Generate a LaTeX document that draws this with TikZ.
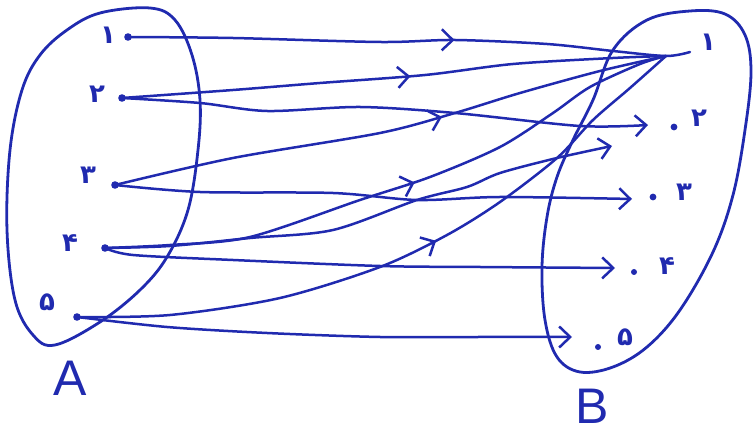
\documentclass[tikz,border=0pt]{standalone}
\usepackage{fontspec}
\newfontfamily\arabicfont[Script=Arabic]{DejaVu Sans}
\newfontfamily\latinfont{Liberation Sans}
\usetikzlibrary{arrows.meta,decorations.markings}
\definecolor{ink}{RGB}{32,42,175}
\tikzset{
  blob/.style={draw=ink, line width=2.8pt},
  conn/.style={draw=ink, line width=2.5pt},
  endarr/.style={-{Straight Barb[length=11pt,width=21pt]}},
  midarr/.style={postaction={decorate}, decoration={markings, mark=at position #1 with {\arrow{Straight Barb[length=11pt,width=21pt]}}}},
  dig/.style={text=ink, font=\arabicfont\bfseries\fontsize{26}{26}\selectfont, inner sep=0pt},
  setname/.style={text=ink, font=\latinfont\fontsize{50}{50}\selectfont, inner sep=0pt},
  pt/.style={fill=ink}
}
\begin{document}
\begin{tikzpicture}[x=1pt, y=-1pt, line cap=round, line join=round]
\useasboundingbox (0,0) rectangle (753,435);
% sets
\draw[blob] plot[smooth cycle, tension=0.6] coordinates {(40,55) (67,30) (100,13) (150,8) (175,20) (192,55) (200,100) (198,150) (188,210) (167,257) (140,290) (100,322) (55,345) (33,335) (15,300) (7,230) (10,150) (22,90)};
\draw[blob] plot[smooth cycle, tension=0.6] coordinates {(613,50) (647,20) (690,11) (725,14) (745,35) (751,72) (745,130) (733,195) (713,252) (680,310) (647,347) (613,367) (580,372) (557,357) (545,320) (542,267) (547,217) (557,177) (573,140) (593,100)};
\node[setname] (A) at (70,378) {A};
\node[setname] (B) at (592,406) {B};
% points of A
\coordinate (a1) at (128,37);
\coordinate (a2) at (122,98);
\coordinate (a3) at (115,185);
\coordinate (a4) at (105,248);
\coordinate (a5) at (77,317);
% points of B
\coordinate (b1) at (666,56);
\coordinate (b1e) at (690,52);
\coordinate (b2) at (648,125);
\coordinate (b2b) at (612,146);
\coordinate (b3) at (632,199);
\coordinate (b4) at (615,268);
\coordinate (b5) at (572,337);
\foreach \p in {a1,a2,a3,a4,a5} \fill[pt] (\p) circle (3.8pt);
\fill[pt] (674,127) circle (3.4pt);
\fill[pt] (653,197) circle (3.4pt);
\fill[pt] (634,272) circle (3pt);
\fill[pt] (598,347) circle (3pt);
% labels
\node[dig] (la1) at (108,35) {۱};
\node[dig] (la2) at (97,94) {۲};
\node[dig] (la3) at (88,175) {۳};
\node[dig] (la4) at (70,243) {۴};
\node[dig] (la5) at (47,302) {۵};
\node[dig] (lb1) at (708,42) {۱};
\node[dig] (lb2) at (699,118) {۲};
\node[dig] (lb3) at (684,192) {۳};
\node[dig] (lb4) at (667,266) {۴};
\node[dig] (lb5) at (625,337) {۵};
% connectors
\draw[conn, midarr=0.58] plot[smooth, tension=0.5] coordinates {(a1) (233,38) (380,42) (455,40) (547,44) (613,51) (b1) (b1e)};
\draw[conn, midarr=0.53] plot[smooth, tension=0.5] coordinates {(a2) (233,90) (320,83) (425,75) (513,64) (613,58) (b1)};
\draw[conn, endarr] plot[smooth, tension=0.5] coordinates {(a2) (200,103) (267,111) (360,107) (455,113) (580,126) (b2)};
\draw[conn, midarr=0.59] plot[smooth, tension=0.5] coordinates {(a3) (233,158) (380,133) (455,113) (520,93) (600,71) (b1)};
\draw[conn, endarr] plot[smooth, tension=0.5] coordinates {(a3) (200,192) (333,193) (417,200) (500,197) (b3)};
\draw[conn, midarr=0.53] plot[smooth, tension=0.5] coordinates {(a4) (170,245) (250,237) (360,200) (430,177) (500,147) (553,113) (590,87) (640,64) (b1)};
\draw[conn, endarr] plot[smooth, tension=0.5] coordinates {(a4) (170,246) (250,238) (333,230) (417,200) (467,187) (500,173) (557,158) (b2b)};
\draw[conn, endarr] plot[smooth, tension=0.5] coordinates {(a4) (133,255) (233,260) (380,266) (480,267) (b4)};
\draw[conn, midarr=0.556] plot[smooth, tension=0.5] coordinates {(a5) (170,315) (280,298) (380,267) (447,235) (500,202) (557,158) (593,120) (630,88) (b1)};
\draw[conn, endarr] plot[smooth, tension=0.5] coordinates {(a5) (167,327) (267,333) (380,337) (480,337) (b5)};
\end{tikzpicture}
\end{document}
